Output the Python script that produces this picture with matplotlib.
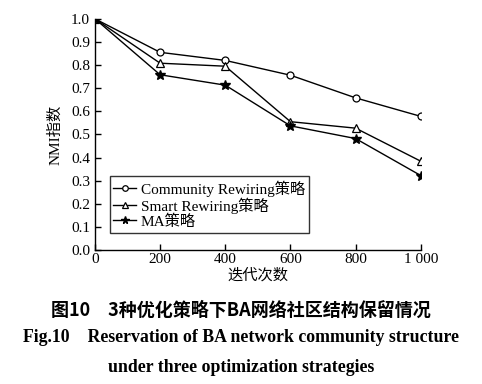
import matplotlib.pyplot as plt

plt.rcParams.update({
    'font.family': ['Liberation Serif', 'Noto Sans CJK SC'],
    'font.size': 11,
})

# data
iters = [0, 200, 400, 600, 800, 1000]
community = [1.0, 0.855, 0.82, 0.756, 0.658, 0.578]
smart = [1.0, 0.808, 0.795, 0.555, 0.527, 0.384]
ma = [1.0, 0.758, 0.713, 0.537, 0.482, 0.322]
xtick_labels = ['0', '200', '400', '600', '800', '1 000']
yticks = [0.0, 0.1, 0.2, 0.3, 0.4, 0.5, 0.6, 0.7, 0.8, 0.9, 1.0]

fig = plt.figure(figsize=(4.82, 3.84), dpi=100)
ax = fig.add_axes([0.197, 0.349, 0.676, 0.602])

ax.plot(iters, community, color='black', lw=1, marker='o', ms=5,
        mfc='white', mec='black', mew=0.9, label='Community Rewiring策略')
ax.plot(iters, smart, color='black', lw=1, marker='^', ms=6,
        mfc='white', mec='black', mew=0.9, label='Smart Rewiring策略')
ax.plot(iters, ma, color='black', lw=1, marker='*', ms=7,
        mfc='black', mec='black', label='MA策略')

ax.set_xlim(0, 1000)
ax.set_ylim(0, 1.0)
ax.set_xticks(iters)
ax.set_xticklabels(xtick_labels)
ax.set_yticks(yticks)
ax.set_yticklabels([f'{v:.1f}' for v in yticks])
ax.tick_params(direction='in', length=4, width=1, labelsize=11, colors='black')
ax.tick_params(axis='x', pad=2)
ax.spines['top'].set_visible(False)
ax.spines['right'].set_visible(False)
for s in ['left', 'bottom']:
    ax.spines[s].set_linewidth(1)

ax.set_xlabel('迭代次数', fontsize=11, labelpad=2)
ax.set_ylabel('NMI指数', fontsize=11, labelpad=6)

leg = ax.legend(loc='lower left', bbox_to_anchor=(0.045, 0.075), frameon=True,
                fancybox=False, edgecolor='black', fontsize=11,
                handlelength=1.5, handletextpad=0.3, borderpad=0.25,
                labelspacing=0.05, borderaxespad=0, markerscale=0.8)
leg.get_frame().set_linewidth(1)

fig.text(0.5, 0.193, '图10　3种优化策略下BA网络社区结构保留情况',
         ha='center', va='center', fontsize=13, fontweight='bold',
         family=['Noto Sans CJK SC'])
fig.text(0.5, 0.120, 'Fig.10    Reservation of BA network community structure',
         ha='center', va='center', fontsize=12.8, fontweight='bold')
fig.text(0.5, 0.044, 'under three optimization strategies',
         ha='center', va='center', fontsize=12.8, fontweight='bold')

fig.savefig('out.png', dpi=100, facecolor='white')
